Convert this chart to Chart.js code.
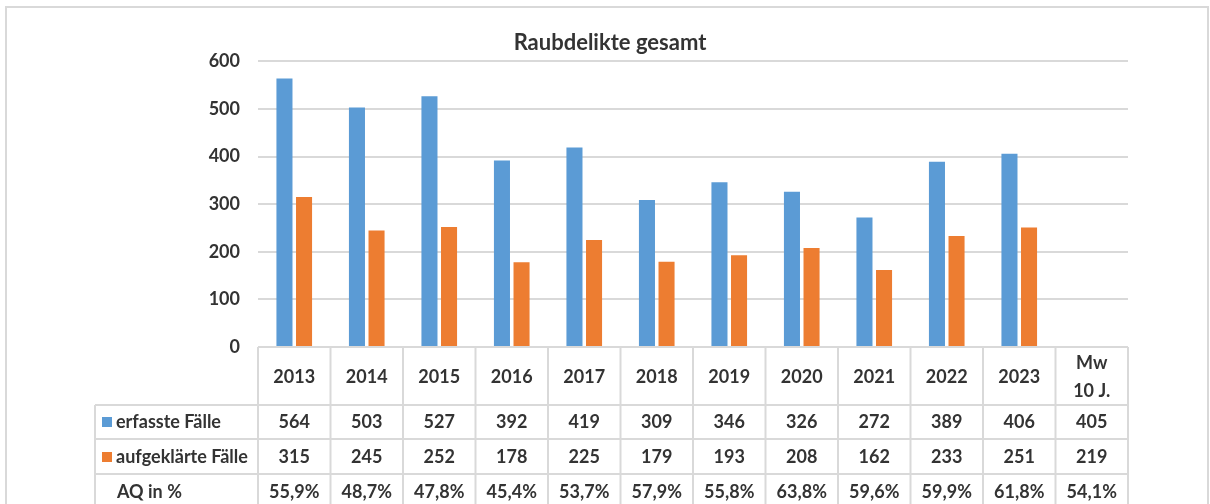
<!DOCTYPE html>
<html>
<head>
<meta charset="utf-8">
<script src="https://cdn.jsdelivr.net/npm/chart.js@4.4.1/dist/chart.umd.min.js"></script>
<style>
  html, body { margin: 0; padding: 0; background: #fff; }
  #wrap { width: 1210px; height: 504px; position: relative; }
</style>
</head>
<body>
<div id="wrap"><canvas id="mycanvas" width="1210" height="504"></canvas></div>
<script>
var years = ['2013', '2014', '2015', '2016', '2017', '2018', '2019', '2020', '2021', '2022', '2023', 'Mw 10 J.'];
var erfasst = [564, 503, 527, 392, 419, 309, 346, 326, 272, 389, 406, null];
var aufgeklaert = [315, 245, 252, 178, 225, 179, 193, 208, 162, 233, 251, null];
// table rows (incl. the 10-year mean in the last column)
var rowErfasst = ['564', '503', '527', '392', '419', '309', '346', '326', '272', '389', '406', '405'];
var rowAufgeklaert = ['315', '245', '252', '178', '225', '179', '193', '208', '162', '233', '251', '219'];
var rowAQ = ['55,9%', '48,7%', '47,8%', '45,4%', '53,7%', '57,9%', '55,8%', '63,8%', '59,6%', '59,9%', '61,8%', '54,1%'];
var yTicks = [0, 100, 200, 300, 400, 500, 600];

var blue = '#5B9BD5';
var orange = '#ED7D31';
var lineGray = '#d9d9d9';
var textColor = '#333333';
var font = 'Lato, "Open Sans", sans-serif';

var tablePlugin = {
	id: 'dataTable',
	afterDraw: function(chart) {
		var ctx = chart.ctx;
		var area = chart.chartArea;
		var x = chart.scales.x;
		var n = years.length;
		var w = (area.right - area.left) / n;
		var labelLeft = 95;
		var rows = [area.bottom, 405, 439, 474, 510];

		ctx.save();
		// outer frame
		ctx.strokeStyle = lineGray;
		ctx.lineWidth = 2;
		ctx.beginPath();
		ctx.moveTo(6, 510);
		ctx.lineTo(6, 7);
		ctx.lineTo(1208, 7);
		ctx.lineTo(1208, 510);
		ctx.stroke();

		// table grid
		ctx.beginPath();
		ctx.moveTo(area.left, rows[0]);
		ctx.lineTo(area.right, rows[0]);
		for (var r = 1; r < 4; r++) {
			ctx.moveTo(labelLeft, rows[r]);
			ctx.lineTo(area.right, rows[r]);
		}
		for (var i = 0; i <= n; i++) {
			var bx = area.left + i * w;
			ctx.moveTo(bx, rows[0]);
			ctx.lineTo(bx, rows[4]);
		}
		ctx.moveTo(labelLeft, rows[1]);
		ctx.lineTo(labelLeft, rows[4]);
		ctx.stroke();

		// texts
		ctx.fillStyle = textColor;
		ctx.font = 'bold 18px ' + font;
		ctx.textAlign = 'center';
		ctx.textBaseline = 'middle';
		for (var j = 0; j < n; j++) {
			var cx = x.getPixelForValue(j);
			if (j === n - 1) {
				ctx.fillText('Mw', cx, 363);
				ctx.fillText('10 J.', cx, 391);
			} else {
				ctx.fillText(years[j], cx, 377);
			}
			ctx.fillText(rowErfasst[j], cx, 422);
			ctx.fillText(rowAufgeklaert[j], cx, 457);
			ctx.fillText(rowAQ[j], cx, 492);
		}

		// row labels with legend keys
		ctx.textAlign = 'left';
		ctx.fillStyle = blue;
		ctx.fillRect(102, 417, 10, 10);
		ctx.fillStyle = orange;
		ctx.fillRect(102, 452, 10, 10);
		ctx.fillStyle = textColor;
		ctx.fillText('erfasste Fälle', 116, 422);
		ctx.fillText('aufgeklärte Fälle', 116, 457);
		ctx.fillText('AQ in %', 117, 492);
		ctx.restore();
	}
};

var ctx = document.getElementById('mycanvas');

var barGraph = new Chart(ctx, {
	type: 'bar',
	data: {
		labels: years,
		datasets: [
			{
				label: 'erfasste Fälle',
				backgroundColor: blue,
				data: erfasst
			},
			{
				label: 'aufgeklärte Fälle',
				backgroundColor: orange,
				data: aufgeklaert
			}
		]
	},
	options: {
		responsive: false,
		animation: false,
		events: [],
		layout: {
			padding: { left: 92, right: 82, top: 0, bottom: 0 }
		},
		datasets: {
			bar: {
				categoryPercentage: 0.54,
				barPercentage: 0.82
			}
		},
		plugins: {
			legend: { display: false },
			tooltip: { enabled: false },
			title: {
				display: true,
				text: 'Raubdelikte gesamt',
				color: textColor,
				font: { family: font, size: 22, weight: 'bold', lineHeight: 1.2 },
				padding: { top: 30, bottom: 5 }
			}
		},
		scales: {
			x: {
				grid: { display: false },
				border: { display: false },
				ticks: { display: false },
				afterFit: function(scale) { scale.height = 157; }
			},
			y: {
				min: 0,
				max: 600,
				afterBuildTicks: function(scale) {
					scale.ticks = yTicks.map(function(v) { return { value: v }; });
				},
				grid: { color: lineGray, lineWidth: 2, drawTicks: false },
				border: { display: false },
				ticks: {
					padding: 18,
					color: textColor,
					font: { family: font, size: 18, weight: 'bold' }
				},
				afterFit: function(scale) { scale.width = 166; }
			}
		}
	},
	plugins: [tablePlugin]
});
</script>
</body>
</html>
